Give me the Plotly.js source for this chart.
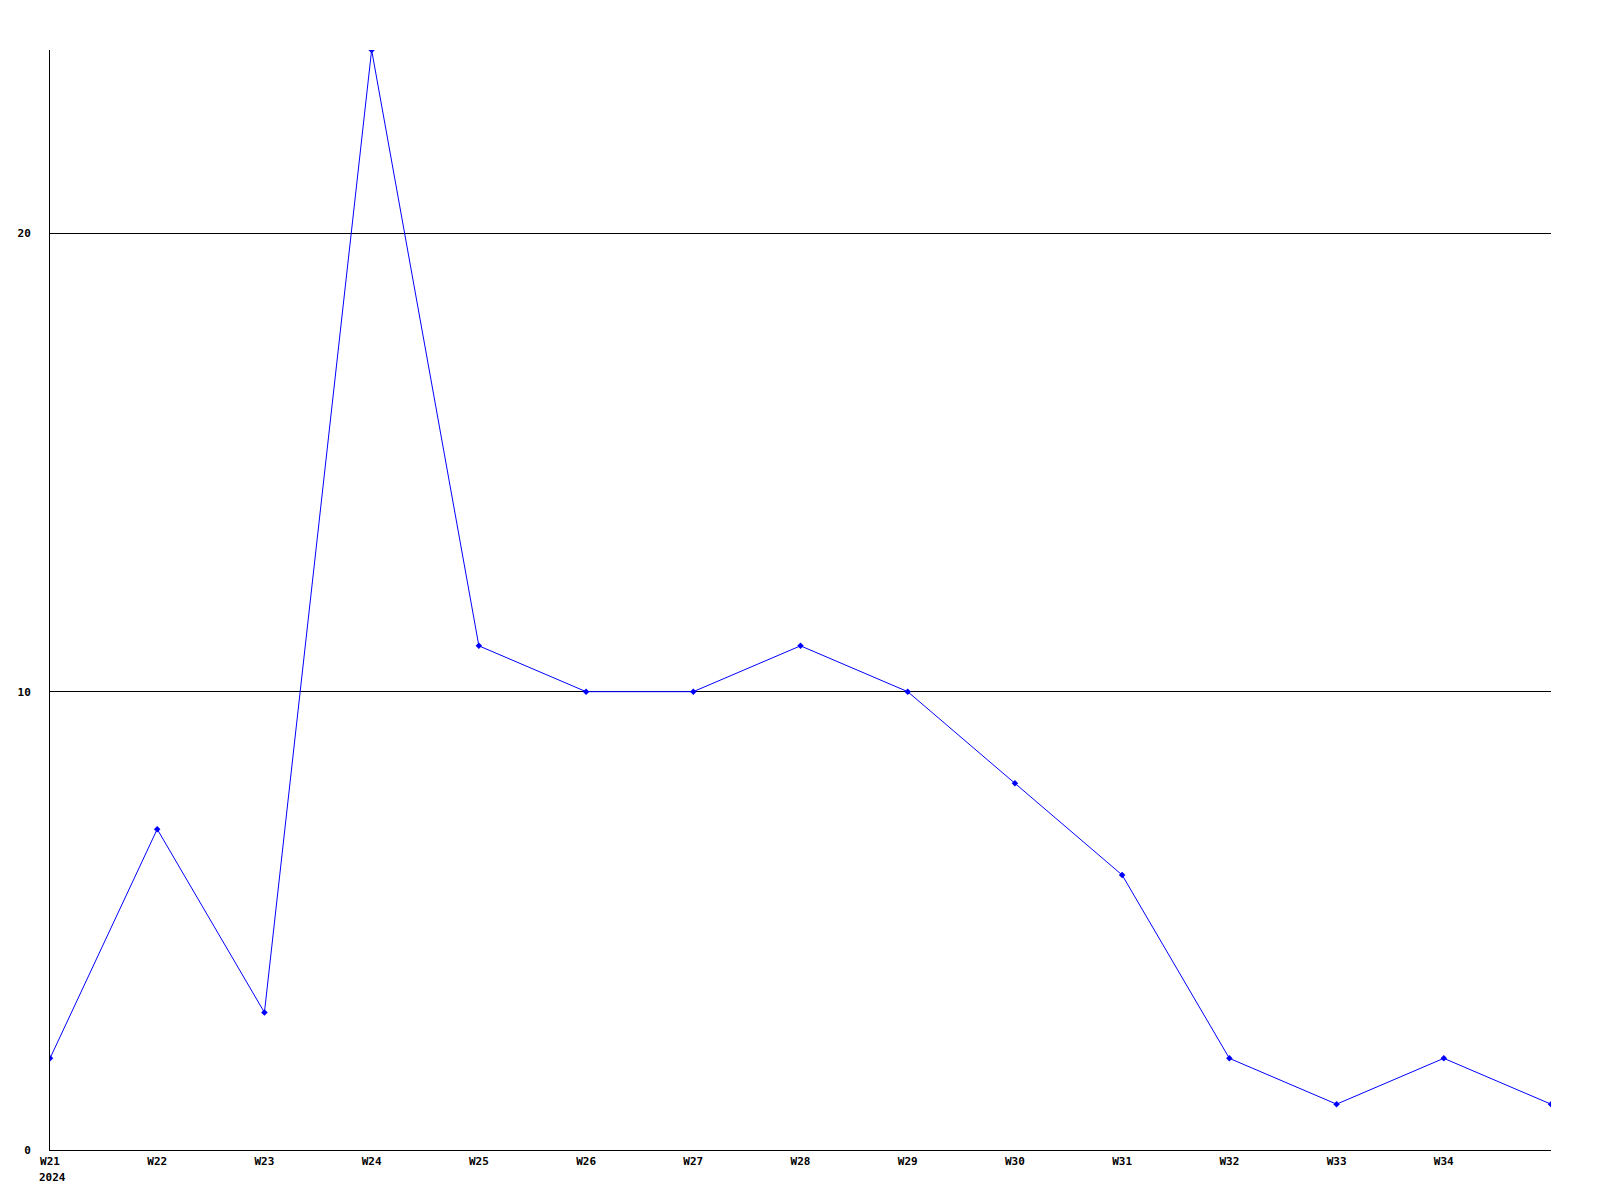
<!DOCTYPE html>
<html>
<head>
<meta charset="utf-8">
<script src="https://cdn.plot.ly/plotly-3.0.1.min.js"></script>
<style>html,body{margin:0;padding:0;background:#fff;}#chart{width:1600px;height:1200px;}</style>
</head>
<body>
<div id="chart"></div>
<script>
const weeks = [21, 22, 23, 24, 25, 26, 27, 28, 29, 30, 31, 32, 33, 34, 35];
const counts = [2, 7, 3, 24, 11, 10, 10, 11, 10, 8, 6, 2, 1, 2, 1];
const tickWeeks = [21, 22, 23, 24, 25, 26, 27, 28, 29, 30, 31, 32, 33, 34];
const tickLabels = ["W21", "W22", "W23", "W24", "W25", "W26", "W27", "W28", "W29", "W30", "W31", "W32", "W33", "W34"];
const yearLabel = "2024";
const yTicks = [0, 10, 20];

const font = {family: "DejaVu Sans Mono, monospace", size: 11, color: "#000", weight: "bold"};

Plotly.newPlot("chart", [{
  x: weeks,
  y: counts,
  type: "scatter",
  mode: "lines+markers",
  line: {color: "#0000ff", width: 1},
  marker: {color: "#0000ff", size: 5, symbol: "diamond"},
  hoverinfo: "none"
}], {
  width: 1600,
  height: 1200,
  margin: {l: 50, r: 49, t: 50, b: 50},
  paper_bgcolor: "#fff",
  plot_bgcolor: "#fff",
  showlegend: false,
  font: font,
  xaxis: {
    range: [21, 35],
    tickvals: tickWeeks,
    ticktext: tickLabels,
    showgrid: false,
    zeroline: false,
    showline: true,
    linecolor: "#000",
    linewidth: 1,
    ticks: "",
    ticklabelstandoff: 1,
    tickfont: font,
    tickangle: 0
  },
  yaxis: {
    range: [0, 24],
    tickvals: yTicks,
    showgrid: true,
    gridcolor: "#000",
    gridwidth: 1,
    zeroline: false,
    showline: true,
    linecolor: "#000",
    linewidth: 1,
    ticks: "",
    ticklabelstandoff: 16,
    tickfont: font
  },
  annotations: [{
    x: tickWeeks[0],
    xref: "x",
    y: 0,
    yref: "paper",
    yanchor: "top",
    xanchor: "left",
    xshift: -13,
    yshift: -19,
    text: yearLabel,
    showarrow: false,
    font: font
  }]
}, {staticPlot: true});
</script>
</body>
</html>
